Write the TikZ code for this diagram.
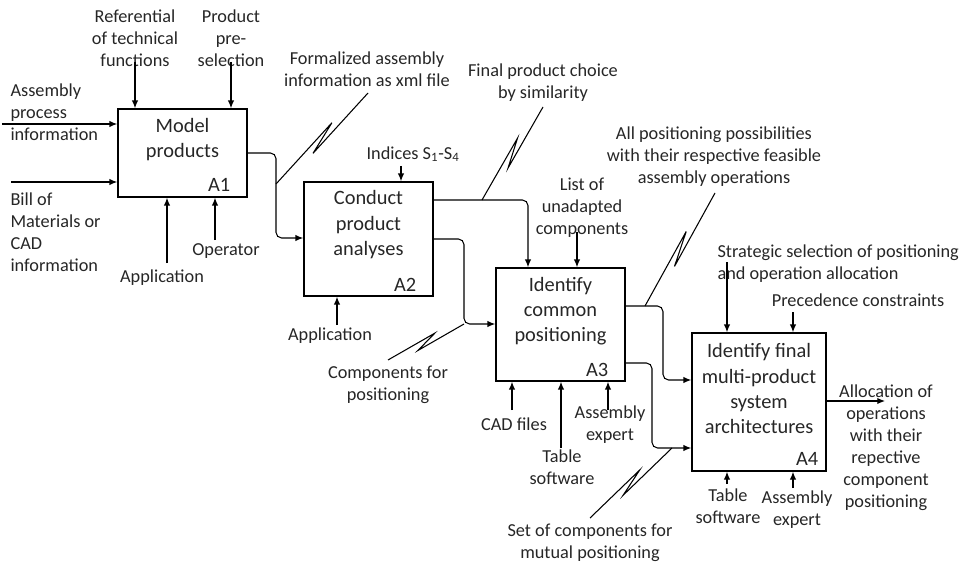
\documentclass[tikz,border=0pt]{standalone}
\usepackage{fontspec}
\setmainfont{Carlito}
\usetikzlibrary{arrows.meta}
\usetikzlibrary{positioning}
\usetikzlibrary{calc}
\tikzstyle{activity}=[draw,line width=1.1pt,rectangle,inner sep=0]
\tikzstyle{lbl}=[inner sep=0,align=center,font=\fontsize{13}{15.6}\selectfont]
\newcommand{\zigline}[2]{\draw (#1) -- ($(#1)!0.64!(#2)!3pt!90:(#2)$) -- ($(#1)!0.37!(#2)!3pt!-90:(#2)$) -- (#2);}

\begin{document}
\begin{tikzpicture}[
  x=0.025cm, y=-0.025cm,
  line width=0.75pt,
  text=black!85,
  arr/.style={-{Latex[length=5.5pt,width=4.5pt]}},
  flow/.style={arr,rounded corners=4pt},
  title/.style={inner sep=0,align=center,font=\fontsize{14.5}{18}\selectfont},
  num/.style={inner sep=0,anchor=base east,font=\fontsize{14.5}{18}\selectfont},
]
\useasboundingbox (0,0) rectangle (962,565);
  % activities
  \node[activity,minimum width=3.225cm,minimum height=2.2cm] (A1) at (182.5,153) {};
  \node[activity,minimum width=3.225cm,minimum height=2.85cm] (A2) at (368.5,239) {};
  \node[activity,minimum width=3.225cm,minimum height=2.825cm] (A3) at (560.5,324.5) {};
  \node[activity,minimum width=3.35cm,minimum height=3.45cm] (A4) at (759,402) {};
  \node[title] (t1) at ($(A1.north)+(0,31.5)$) {Model\\products};
  \node[title] (t2) at ($(A2.north)+(0,43.5)$) {Conduct\\product\\analyses};
  \node[title] (t3) at ($(A3.north)+(0,44)$) {Identify\\common\\positioning};
  \node[title] (t4) at ($(A4.north)+(0,56.5)$) {Identify final\\multi-product\\system\\architectures};
  \node[num] (n1) at ($(A1.south east)+(-17,-6.5)$) {A1};
  \node[num] (n2) at ($(A2.south east)+(-17,-5.5)$) {A2};
  \node[num] (n3) at ($(A3.south east)+(-17,-5.5)$) {A3};
  \node[num] (n4) at ($(A4.south east)+(-8,-6.5)$) {A4};

  % labels
  \node[lbl,align=left,anchor=west] (lAPI) at (10,112.5) {Assembly\\process\\information};
  \node[lbl,align=left,anchor=west] (lBOM) at (10,232.5) {Bill of\\Materials or\\CAD\\information};
  \node[lbl] (lRef) at (135,38) {Referential\\of technical\\functions};
  \node[lbl] (lPre) at (231,38) {Product\\pre-\\selection};
  \node[lbl] (lApp1) at (162,278) {Application};
  \node[lbl] (lOp) at (226,251) {Operator};
  \node[lbl] (lForm) at (367,69) {Formalized assembly\\information as xml file};
  \node[lbl] (lIdx) at (413,154) {Indices S\textsubscript{1}-S\textsubscript{4}};
  \node[lbl] (lFinal) at (543,82.5) {Final product choice\\by similarity};
  \node[lbl] (lList) at (582,208) {List of\\unadapted\\components};
  \node[lbl] (lApp2) at (330,336) {Application};
  \node[lbl] (lComp) at (388,385) {Components for\\positioning};
  \node[lbl] (lAll) at (714,157) {All positioning possibilities\\with their respective feasible\\assembly operations};
  \node[lbl] (lCAD) at (514,424) {CAD files};
  \node[lbl] (lTab3) at (562,467) {Table\\software};
  \node[lbl] (lExp3) at (610,424.5) {Assembly\\expert};
  \node[lbl] (lSet) at (590,543) {Set of components for\\mutual positioning};
  \node[lbl,align=left,anchor=west] (lStrat) at (717,264) {Strategic selection of positioning\\and operation allocation};
  \node[lbl] (lPrec) at (858,300) {Precedence constraints};
  \node[lbl] (lTab4) at (728,506) {Table\\software};
  \node[lbl] (lExp4) at (797,510) {Assembly\\expert};
  \node[lbl] (lAlloc) at (886,448) {Allocation of\\operations\\with their\\repective\\component\\positioning};

  % inputs
  \coordinate (i1) at (2,124);
  \coordinate (i2) at (11,182);
  \draw[arr] (i1) -- (i1 -| A1.west);
  \draw[arr] (i2) -- (i2 -| A1.west);
  % controls
  \coordinate (c1) at (135,62);
  \coordinate (c2) at (231,62);
  \coordinate (c3) at (401,166);
  \coordinate (c4) at (577,232);
  \coordinate (c5) at (727,262);
  \coordinate (c6) at (793,312);
  \draw[arr] (c1) -- (c1 |- A1.north);
  \draw[arr] (c2) -- (c2 |- A1.north);
  \draw[arr] (c3) -- (c3 |- A2.north);
  \draw[arr] (c4) -- (c4 |- A3.north);
  \draw[arr] (c5) -- (c5 |- A4.north);
  \draw[arr] (c6) -- (c6 |- A4.north);
  % mechanisms
  \coordinate (m1) at (167,263);
  \coordinate (m2) at (215,240);
  \coordinate (m3) at (337,325);
  \coordinate (m4) at (512,410);
  \coordinate (m5) at (561,448);
  \coordinate (m6) at (608,410);
  \coordinate (m7) at (727,484);
  \coordinate (m8) at (793,488);
  \draw[arr] (m1) -- (m1 |- A1.south);
  \draw[arr] (m2) -- (m2 |- A1.south);
  \draw[arr] (m3) -- (m3 |- A2.south);
  \draw[arr] (m4) -- (m4 |- A3.south);
  \draw[arr] (m5) -- (m5 |- A3.south);
  \draw[arr] (m6) -- (m6 |- A3.south);
  \draw[arr] (m7) -- (m7 |- A4.south);
  \draw[arr] (m8) -- (m8 |- A4.south);

  % flows between activities
  \coordinate (f1) at (276,153);
  \coordinate (f1b) at (276,238);
  \coordinate (f2) at (528,200);
  \coordinate (f3) at (464,239);
  \coordinate (f3b) at (464,324);
  \coordinate (f4) at (663,306);
  \coordinate (f4b) at (663,380);
  \coordinate (f5) at (652,363);
  \coordinate (f5b) at (652,448);
  \draw[flow] (f1 -| A1.east) -- (f1) -- (f1b) -- (f1b -| A2.west);
  \draw[flow] (f2 -| A2.east) -- (f2) -- (f2 |- A3.north);
  \draw[flow] (f3 -| A2.east) -- (f3) -- (f3b) -- (f3b -| A3.west);
  \draw[flow] (f4 -| A3.east) -- (f4) -- (f4b) -- (f4b -| A4.west);
  \draw[flow] (f5 -| A3.east) -- (f5) -- (f5b) -- (f5b -| A4.west);
  \coordinate (o1) at (885,401);
  \draw[arr] (o1 -| A4.east) -- (o1);

  % squiggles
  \coordinate (k1s) at (276,184);  \coordinate (k1e) at (368,93);
  \coordinate (k2s) at (482,200);  \coordinate (k2e) at (543,107);
  \coordinate (k3s) at (388,360);
  \coordinate (k4s) at (645,306);  \coordinate (k4e) at (715,193);
  \coordinate (k5s) at (590,518);  \coordinate (k5e) at (672,448);
  \zigline{k1s}{k1e}
  \zigline{k2s}{k2e}
  \zigline{k3s}{f3b}
  \zigline{k4s}{k4e}
  \zigline{k5s}{k5e}
\end{tikzpicture}
\end{document}
